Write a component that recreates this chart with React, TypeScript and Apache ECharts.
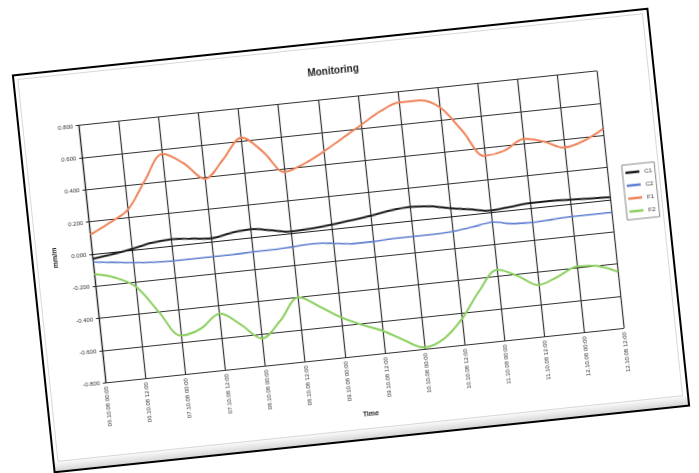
import React, { useEffect, useRef } from "react";
import * as echarts from "echarts";

const categories = [
  "06.10.08 00:00", "06.10.08 06:00", "06.10.08 12:00", "06.10.08 18:00",
  "07.10.08 00:00", "07.10.08 06:00", "07.10.08 12:00", "07.10.08 18:00",
  "08.10.08 00:00", "08.10.08 06:00", "08.10.08 12:00", "08.10.08 18:00",
  "09.10.08 00:00", "09.10.08 06:00", "09.10.08 12:00", "09.10.08 18:00",
  "10.10.08 00:00", "10.10.08 06:00", "10.10.08 12:00", "10.10.08 18:00",
  "11.10.08 00:00", "11.10.08 06:00", "11.10.08 12:00", "11.10.08 18:00",
  "12.10.08 00:00", "12.10.08 06:00", "12.10.08 12:00",
];

const seriesNames = ["C1", "C2", "F1", "F2"];
const seriesColors = ["#1c1c1c", "#5f7fd0", "#ef8459", "#8ccf5f"];

const c1 = [-0.03, -0.015, 0.005, 0.03, 0.04, 0.03, 0.02, 0.04, 0.05, 0.03, 0.01, 0.015, 0.025, 0.04, 0.055, 0.075, 0.085, 0.075, 0.05, 0.03, 0.01, 0.02, 0.03, 0.03, 0.025, 0.02, 0.015];
const c2 = [-0.05, -0.065, -0.08, -0.09, -0.095, -0.095, -0.095, -0.095, -0.09, -0.09, -0.085, -0.08, -0.09, -0.105, -0.105, -0.1, -0.1, -0.1, -0.095, -0.08, -0.063, -0.085, -0.09, -0.085, -0.08, -0.08, -0.08];
const f1 = [0.12, 0.18, 0.25, 0.42, 0.57, 0.5, 0.39, 0.5, 0.62, 0.52, 0.38, 0.42, 0.48, 0.55, 0.62, 0.69, 0.735, 0.735, 0.68, 0.52, 0.35, 0.37, 0.43, 0.4, 0.35, 0.38, 0.44];
const f2 = [-0.125, -0.16, -0.23, -0.4, -0.56, -0.53, -0.45, -0.53, -0.63, -0.53, -0.4, -0.47, -0.55, -0.61, -0.66, -0.73, -0.79, -0.75, -0.64, -0.48, -0.36, -0.41, -0.48, -0.44, -0.39, -0.4, -0.45];

const seriesData = [c1, c2, f1, f2];

const yMin = -0.8;
const yMax = 0.8;
const yStep = 0.2;

const FONT = "Liberation Sans, Arial, sans-serif";

export default function App() {
  const ref = useRef<HTMLDivElement>(null);

  useEffect(() => {
    const chart = echarts.init(ref.current!, null, { renderer: "svg" });
    chart.setOption({
      animation: false,
      title: {
        text: "Monitoring",
        left: "center",
        top: 19,
        textStyle: { fontSize: 10, fontWeight: "bold", color: "#222", fontFamily: FONT },
      },
      legend: {
        orient: "vertical",
        left: 597,
        top: 154,
        data: seriesNames,
        icon: "rect",
        itemWidth: 14,
        itemHeight: 2.5,
        itemGap: 7,
        padding: [5, 3, 5, 3],
        borderColor: "#888",
        borderWidth: 1,
        textStyle: { fontSize: 6, color: "#333", fontFamily: FONT },
      },
      grid: { left: 61.3, top: 57.7, width: 521, height: 258.4, containLabel: false },
      xAxis: {
        type: "category",
        data: categories,
        boundaryGap: false,
        name: "Time",
        nameLocation: "middle",
        nameGap: 55,
        nameTextStyle: { fontSize: 7, fontWeight: "bold", color: "#222", fontFamily: FONT },
        axisLine: { lineStyle: { color: "#222", width: 1.2 } },
        axisTick: { interval: 1, length: 3, lineStyle: { color: "#222" } },
        axisLabel: { interval: 1, rotate: 90, fontSize: 6, color: "#333", margin: 4, fontFamily: FONT },
        splitLine: { show: true, interval: 1, lineStyle: { color: "#333", width: 1.2 } },
      },
      yAxis: {
        type: "value",
        min: yMin,
        max: yMax,
        interval: yStep,
        name: "mm/m",
        nameLocation: "middle",
        nameRotate: 90,
        nameGap: 34,
        nameTextStyle: { fontSize: 7, fontWeight: "bold", color: "#222", fontFamily: FONT },
        axisLine: { show: true, lineStyle: { color: "#222", width: 1.2 } },
        axisTick: { show: true, length: 3, lineStyle: { color: "#222" } },
        axisLabel: { fontSize: 6, color: "#333", margin: 6, formatter: (v: number) => v.toFixed(3), fontFamily: FONT },
        splitLine: { show: true, lineStyle: { color: "#333", width: 1.2 } },
      },
      series: seriesNames.map((name, i) => ({
        name,
        type: "line",
        data: seriesData[i],
        smooth: 0.35,
        showSymbol: false,
        color: seriesColors[i],
        lineStyle: { width: i === 1 ? 1.6 : 2, color: seriesColors[i] },
      })),
    });
    return () => chart.dispose();
  }, []);

  return (
    <div style={{ position: "fixed", left: 0, top: 0, width: 699, height: 473, overflow: "hidden", background: "#fff" }}>
      <div
        style={{
          position: "absolute",
          left: 30.5,
          top: 39.75,
          width: 640,
          height: 401,
          transform: "rotate(-6deg)",
          background: "#fff",
          filter: "blur(0.5px)",
        }}
      >
        <div
          style={{
            position: "absolute",
            left: 2,
            right: 2,
            bottom: 2,
            height: 9,
            background: "linear-gradient(#fafafa, #d6d6d6)",
          }}
        />
        <div
          style={{
            position: "absolute",
            left: 5,
            top: 5,
            right: 6,
            bottom: 11,
            border: "1px solid #d8d8d8",
          }}
        />
        <div ref={ref} style={{ position: "absolute", left: 0, top: 0, width: 640, height: 401 }} />
        <div
          style={{
            position: "absolute",
            left: 0,
            top: 0,
            width: 640,
            height: 401,
            border: "2px solid #000",
            boxSizing: "border-box",
            pointerEvents: "none",
          }}
        />
      </div>
    </div>
  );
}
